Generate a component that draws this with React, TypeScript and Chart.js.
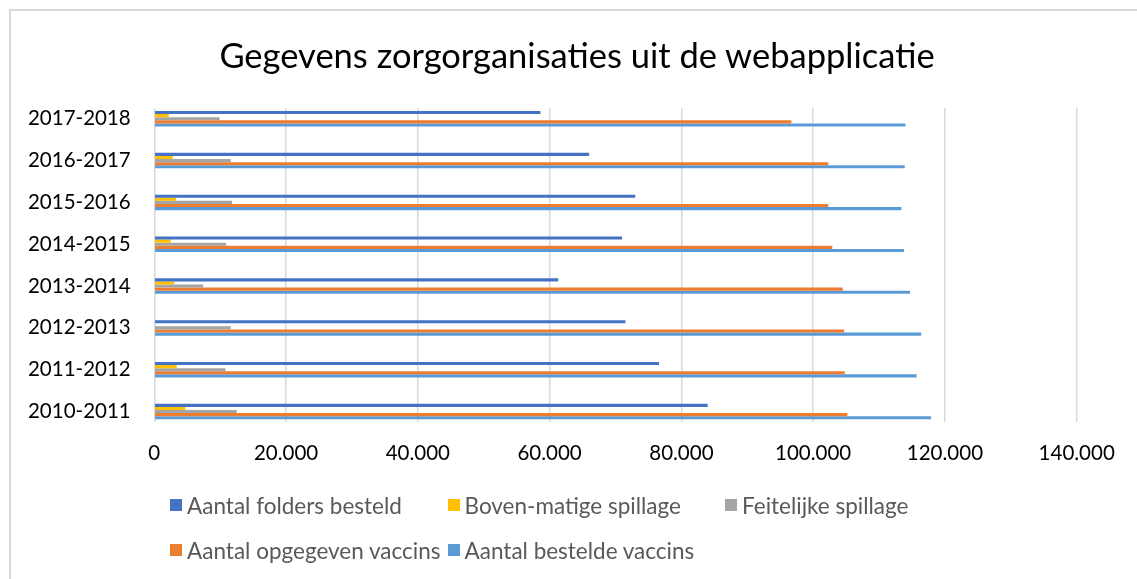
import React, { useEffect, useRef } from 'react';
import { Chart, registerables } from 'chart.js';

Chart.register(...registerables);

const categories = ['2010-2011', '2011-2012', '2012-2013', '2013-2014', '2014-2015', '2015-2016', '2016-2017', '2017-2018'];
const foldersBesteld = [84000, 76600, 71500, 61300, 71000, 73000, 66000, 58600];
const bovenmatigeSpillage = [4700, 3400, 0, 3000, 2500, 3300, 2800, 2200];
const feitelijkeSpillage = [12500, 10800, 11600, 7400, 10900, 11800, 11600, 9900];
const opgegevenVaccins = [105200, 104800, 104700, 104500, 102900, 102300, 102300, 96700];
const besteldeVaccins = [117900, 115700, 116400, 114700, 113800, 113400, 113900, 114000];

const seriesLabels = ['Aantal folders besteld', 'Boven-matige spillage', 'Feitelijke spillage', 'Aantal opgegeven vaccins', 'Aantal bestelde vaccins'];
const seriesColors = ['#4472C4', '#FFC000', '#A5A5A5', '#ED7D31', '#5B9BD5'];
const seriesValues = [foldersBesteld, bovenmatigeSpillage, feitelijkeSpillage, opgegevenVaccins, besteldeVaccins];

const xMin = 0;
const xMax = 140000;
const xStep = 20000;
const title = 'Gegevens zorgorganisaties uit de webapplicatie';

const fmt = (v: number) => String(Math.round(v)).replace(/\B(?=(\d{3})+(?!\d))/g, '.');

export default function App() {
  const canvasRef = useRef<HTMLCanvasElement | null>(null);

  useEffect(() => {
    const canvas = canvasRef.current;
    if (!canvas) return;
    const chart = new Chart(canvas, {
      type: 'bar',
      data: {
        datasets: seriesValues.map((vals, i) => ({
          label: seriesLabels[i],
          data: vals.map((v, idx) => ({ x: v, y: idx })),
          backgroundColor: seriesColors[i],
          borderWidth: 0,
          categoryPercentage: 0.37,
          barPercentage: 1,
        })),
      },
      options: {
        indexAxis: 'y',
        responsive: false,
        animation: false,
        layout: { padding: { left: 10, right: 60.3, top: 108.3, bottom: 100 } },
        plugins: {
          legend: { display: false },
          tooltip: { enabled: false },
          title: { display: false },
        },
        scales: {
          x: {
            type: 'linear',
            min: xMin,
            max: xMax,
            ticks: {
              stepSize: xStep,
              color: '#000000',
              font: { family: 'Lato', size: 20.5 },
              padding: 19,
              callback: (v: any) => fmt(Number(v)),
            },
            grid: { color: '#d9d9d9', lineWidth: 1.5, drawTicks: false },
            border: { display: false },
            afterFit: (s: any) => { s.height = 57; },
          },
          y: {
            type: 'linear',
            offset: false,
            min: -0.25,
            max: 7.25,
            afterBuildTicks: (s: any) => { s.ticks = categories.map((_, i) => ({ value: i })); },
            ticks: {
              color: '#000000',
              font: { family: 'Lato', size: 20.5 },
              padding: 23.6,
              callback: (v: any) => categories[Number(v)] ?? '',
            },
            grid: { display: false, drawTicks: false },
            border: { display: false },
            afterFit: (s: any) => { s.width = 144.3; },
          },
        },
      },
    } as any);
    return () => chart.destroy();
  }, []);

  return (
    <div style={{ position: 'absolute', left: 0, top: 0, width: 1137, height: 579, overflow: 'hidden', background: '#fff' }}>
      <div style={{ position: 'absolute', left: 9, top: 9, width: 1128, height: 570, borderLeft: '2px solid #d9d9d9', borderTop: '2px solid #d9d9d9', boxSizing: 'border-box' }} />
      <canvas ref={canvasRef} width={1137} height={579} style={{ position: 'absolute', left: 0, top: 0 }} />
      <div style={{ position: 'absolute', left: 0, width: 1154, top: 34, height: 42, lineHeight: '42px', textAlign: 'center', fontFamily: 'Lato', fontSize: 34.5, color: '#000000', whiteSpace: 'nowrap' }}>
        {title}
      </div>
      {seriesLabels.map((lab, i) => {
        const row = i < 3 ? 0 : 1;
        const col = i < 3 ? i : i - 3;
        const left = 170 + col * 277.5;
        const cy = row === 0 ? 505 : 550;
        return (
          <div key={lab} style={{ position: 'absolute', left, top: cy - 15, height: 30, display: 'flex', alignItems: 'center', whiteSpace: 'nowrap', fontFamily: 'Lato', fontSize: 22.5, color: '#595959' }}>
            <span style={{ display: 'inline-block', width: 12, height: 12, background: seriesColors[i], marginRight: 5 }} />
            <span>{lab}</span>
          </div>
        );
      })}
    </div>
  );
}
